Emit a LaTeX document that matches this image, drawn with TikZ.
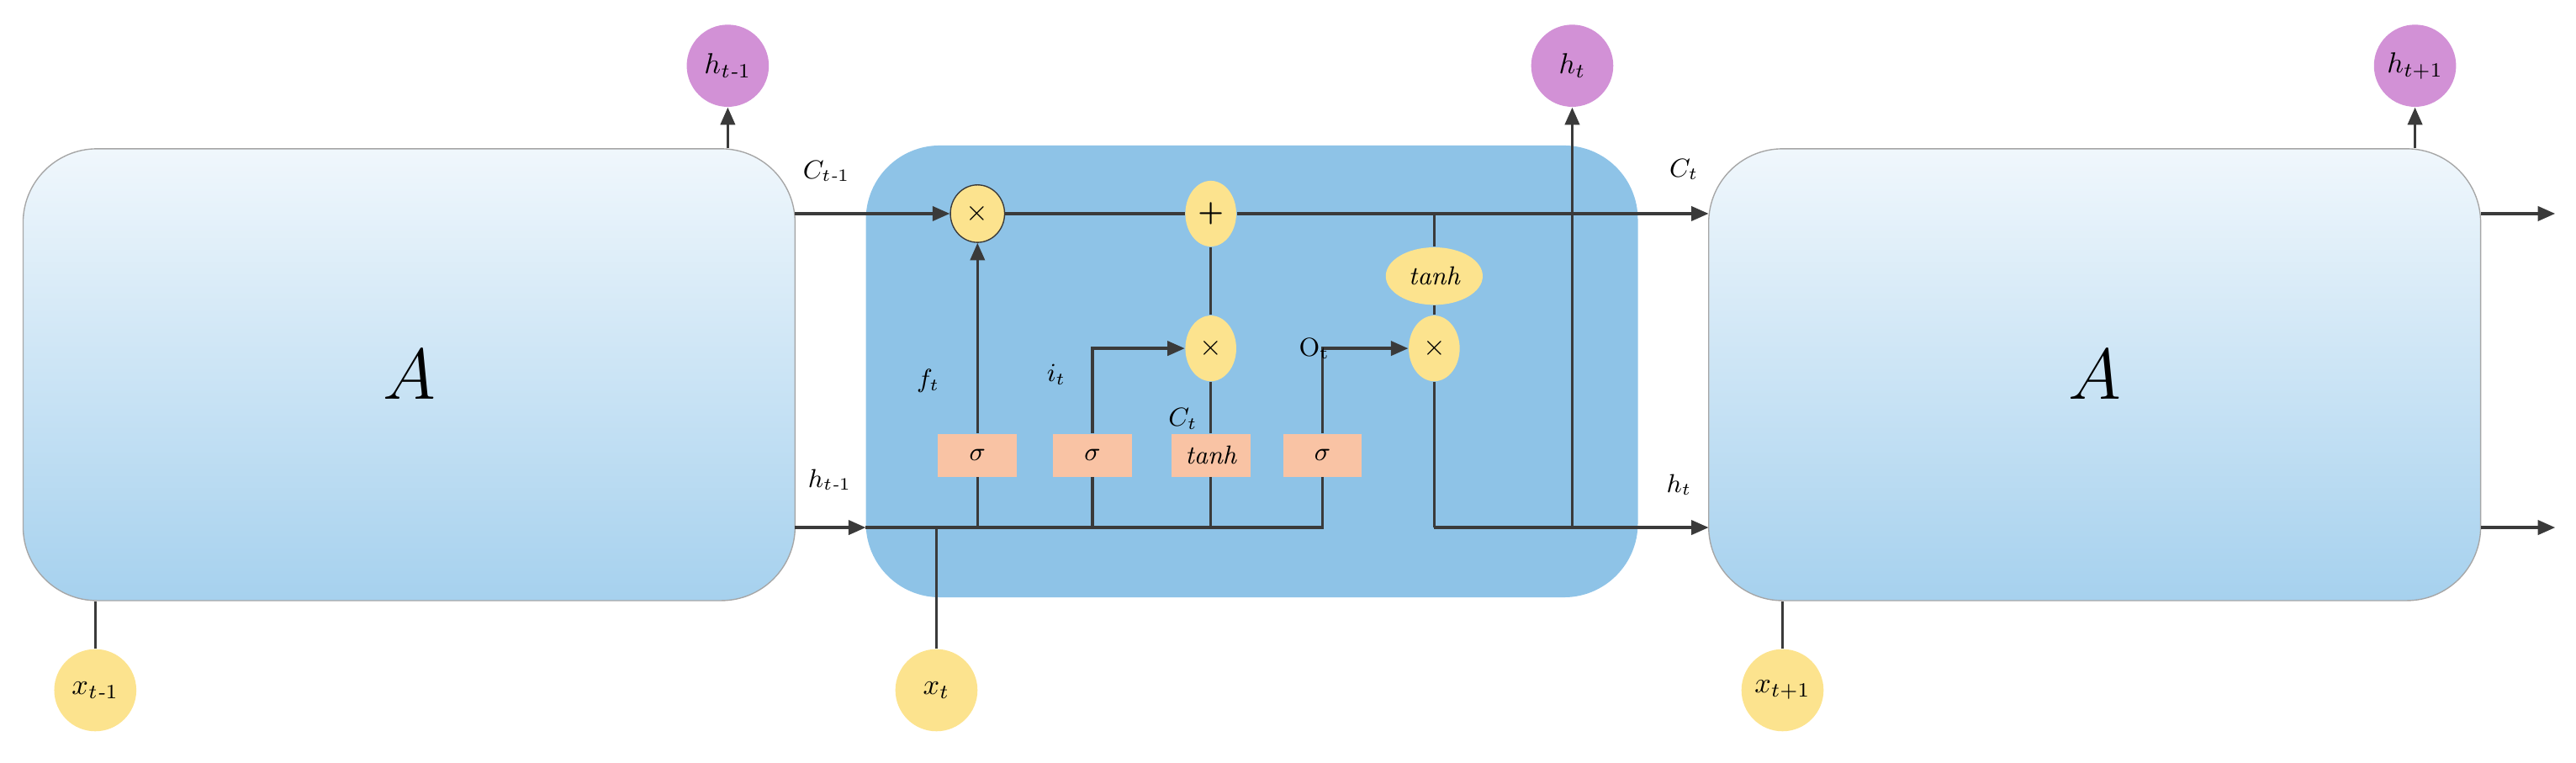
\documentclass[tikz,border=0pt]{standalone}
\usepackage{amsmath}
\usepackage{tikz}
\usetikzlibrary{shapes.geometric, arrows.meta}
\usepackage{xcolor}
\definecolor{cellblue}{HTML}{8EC3E7}
\definecolor{boxtop}{HTML}{F0F7FC}
\definecolor{boxbot}{HTML}{A6D1EE}
\definecolor{gateyel}{HTML}{FCE38E}
\definecolor{sigpink}{HTML}{F9C3A4}
\definecolor{hpurple}{HTML}{D291D6}
\definecolor{ln}{HTML}{3A3A3A}
\tikzset{
  unit/.style={draw=gray!70, rounded corners=0.9cm, minimum width=9.4cm, minimum height=5.5cm, top color=boxtop, bottom color=boxbot},
  xin/.style={circle, fill=gateyel, minimum size=1cm, inner sep=0pt, font=\itshape},
  hout/.style={circle, fill=hpurple, minimum size=1cm, inner sep=0pt, font=\itshape},
  op/.style={ellipse, fill=gateyel, minimum width=0.62cm, minimum height=0.8cm, inner sep=0pt},
  gate/.style={fill=sigpink, minimum width=0.96cm, minimum height=0.52cm, inner sep=0pt, font=\itshape\small},
  wire/.style={ln, line width=1pt},
  arr/.style={wire, -{Triangle[length=6pt,width=5pt]}},
  lbl/.style={font=\itshape\small, inner sep=1pt}
}
\begin{document}
\begin{tikzpicture}[x=0.02cm, y=-0.02cm]
    \useasboundingbox (0,0) rectangle (1568,464);
    % Blocs
    \node[unit] (boxL) at (249,228) {\fontsize{34}{34}\selectfont $A$};
    \node[unit] (boxR) at (1275,228) {\fontsize{34}{34}\selectfont $A$};
    \node[draw=none, fill=cellblue, rounded corners=0.9cm, minimum width=9.4cm, minimum height=5.5cm] (cell) at (762,226) {};
    % Entradas e saidas
    \node[xin] (xl) at (58,420) {$x_{t\text{-}1}$};
    \node[xin] (xm) at (570,420) {$x_t$};
    \node[xin] (xr) at (1085,420) {$x_{t+1}$};
    \node[hout] (hl) at (443,40) {$h_{t\text{-}1}$};
    \node[hout] (hm) at (957,40) {$h_t$};
    \node[hout] (hr) at (1470,40) {$h_{t+1}$};
    % Portas
    \node[op, draw=ln, minimum width=0.66cm, minimum height=0.7cm] (fmul) at (595,130) {$\times$};
    \node[op] (add) at (737,130) {$\boldsymbol{+}$};
    \node[op] (imul) at (737,212) {$\times$};
    \node[op] (omul) at (873,212) {$\times$};
    \node[op, minimum width=1.18cm, minimum height=0.7cm, font=\itshape\small] (tnh) at (873,168) {tanh};
    \node[gate] (sf) at (595,277) {$\sigma$};
    \node[gate] (si) at (665,277) {$\sigma$};
    \node[gate] (sc) at (737,277) {tanh};
    \node[gate] (so) at (805,277) {$\sigma$};
    % Pontos
    \coordinate (cin) at (484,130);
    \coordinate (hin) at (484,321);
    \coordinate (hx) at (570,321);
    \coordinate (hend) at (805,321);
    \coordinate (oturn) at (873,321);
    \coordinate (hbr) at (957,321);
    \coordinate (cbr) at (873,130);
    \coordinate (cout) at (1040,130);
    \coordinate (hrin) at (1040,321);
    % Linhas
    \draw[arr] (cin) -- (fmul);
    \draw[wire] (fmul) -- (add);
    \draw[arr] (add) -- (cout);
    \draw[arr] (hin) -- (527,321);
    \draw[wire] (527,321) -- (hend) -- (so);
    \draw[wire] (xm) -- (hx);
    \draw[wire] (595,321) -- (sf);
    \draw[wire] (665,321) -- (si);
    \draw[wire] (737,321) -- (sc);
    \draw[arr] (sf) -- (fmul);
    \draw[arr] (si) |- (imul);
    \draw[arr] (so) |- (omul);
    \draw[wire] (sc) -- (imul);
    \draw[wire] (imul) -- (add);
    \draw[wire] (cbr) -- (tnh);
    \draw[wire] (tnh) -- (omul);
    \draw[wire] (omul) -- (oturn);
    \draw[arr] (oturn) -- (hrin);
    \draw[arr] (hbr) -- (hm);
    \draw[wire] (xl) -- (boxL.south -| xl);
    \draw[wire] (xr) -- (boxR.south -| xr);
    \draw[arr] (boxL.north -| hl) -- (hl);
    \draw[arr] (boxR.north -| hr) -- (hr);
    \draw[arr] (boxR.east |- cout) -- ++(45,0);
    \draw[arr] (boxR.east |- hrin) -- ++(45,0);
    % Rotulos
    \node[lbl] (lc1) at (503,104) {$C_{t\text{-}1}$};
    \node[lbl] (lh1) at (505,292) {$h_{t\text{-}1}$};
    \node[lbl] (lc2) at (1025,103) {$C_t$};
    \node[lbl] (lh2) at (1022,295) {$h_t$};
    \node[lbl] (lf) at (565,232) {$f_t$};
    \node[lbl] (li) at (643,228) {$i_t$};
    \node[lbl] (lct) at (720,255) {$C_t$};
    \node[lbl, font=\small] (lo) at (800,212) {O$_\text{t}$};
\end{tikzpicture}
\end{document}
